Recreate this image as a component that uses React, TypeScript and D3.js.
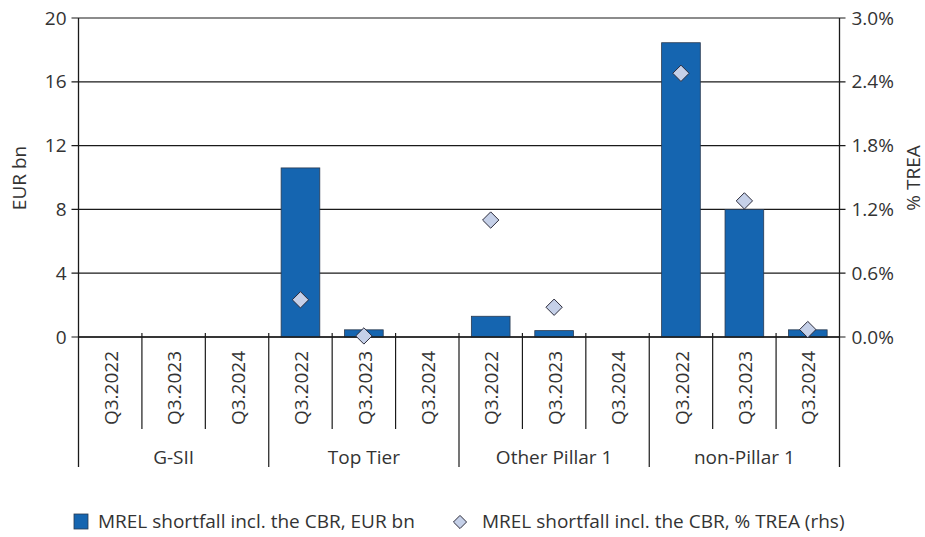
import React from "react";
import * as d3 from "d3";

const groups = ["G-SII", "Top Tier", "Other Pillar 1", "non-Pillar 1"];
const periods = ["Q3.2022", "Q3.2023", "Q3.2024"];
const shortfallEUR = [
  [0, 0, 0],
  [10.6, 0.45, 0],
  [1.3, 0.4, 0],
  [18.45, 8.0, 0.45],
];
const shortfallPct = [
  [null, null, null],
  [0.35, 0.01, null],
  [1.1, 0.28, null],
  [2.48, 1.28, 0.07],
];
const leftTicks = [0, 4, 8, 12, 16, 20];
const rightTicks = [0, 0.6, 1.2, 1.8, 2.4, 3.0];

const W = 925;
const H = 537;
const M = { left: 78.5, right: 839.5, top: 18, zero: 337 };
const FONT = "'Open Sans', 'Noto Sans', sans-serif";
const FS = 19;
const BAR = "#1565b0";
const DIA = "#c5d0e8";
const TXT = "#333";

export default function App() {
  const items = groups.flatMap((g, gi) =>
    periods.map((p, pi) => ({
      key: `${g}-${p}`,
      g,
      gi,
      p,
      v: shortfallEUR[gi][pi],
      pct: shortfallPct[gi][pi],
    }))
  );
  const x = d3
    .scaleBand<string>()
    .domain(items.map((d) => d.key))
    .range([M.left, M.right])
    .paddingInner(0)
    .paddingOuter(0);
  const step = x.step();
  const barW = step * 0.61;
  const yL = d3.scaleLinear().domain([0, 20]).range([M.zero, M.top]);
  const yR = d3.scaleLinear().domain([0, 3]).range([M.zero, M.top]);
  const diamond = d3.symbol().type(d3.symbolDiamond2).size(170);
  const lowY = 429;
  const groupY = 467;

  return (
    <svg width={W} height={H} style={{ position: "absolute", left: 0, top: 0 }} fontFamily={FONT}>
      <rect width={W} height={H} fill="#fff" />
      {leftTicks.map((t) => (
        <g key={`g${t}`}>
          <line x1={M.left - 7} x2={M.right + 6} y1={yL(t)} y2={yL(t)} stroke="#1a1a1a" strokeWidth={1.2} />
          <text x={M.left - 12} y={yL(t)} dy="0.35em" textAnchor="end" fontSize={FS} fill={TXT}>
            {t}
          </text>
        </g>
      ))}
      {rightTicks.map((t) => (
        <text key={`r${t}`} x={M.right + 12} y={yR(t)} dy="0.35em" textAnchor="start" fontSize={FS} fill={TXT}>
          {d3.format(".1f")(t)}%
        </text>
      ))}
      {items.map((d) =>
        d.v > 0 ? (
          <rect
            key={`b${d.key}`}
            x={(x(d.key) as number) + (step - barW) / 2}
            y={yL(d.v)}
            width={barW}
            height={M.zero - yL(d.v)}
            fill={BAR}
            stroke="#2a3a50"
            strokeWidth={0.8}
          />
        ) : null
      )}
      <line x1={M.left} x2={M.left} y1={M.top} y2={groupY} stroke="#1a1a1a" strokeWidth={1.3} />
      <line x1={M.right} x2={M.right} y1={M.top} y2={groupY} stroke="#1a1a1a" strokeWidth={1.3} />
      <line x1={M.left} x2={M.right} y1={M.zero} y2={M.zero} stroke="#1a1a1a" strokeWidth={1.3} />
      {items.map((d, i) =>
        i === 0 ? null : (
          <line
            key={`s${d.key}`}
            x1={x(d.key) as number}
            x2={x(d.key) as number}
            y1={M.zero - 4}
            y2={i % 3 === 0 ? groupY : lowY}
            stroke="#1a1a1a"
            strokeWidth={1.2}
          />
        )
      )}
      {items.map((d) =>
        d.pct != null ? (
          <path
            key={`d${d.key}`}
            d={diamond() as string}
            transform={`translate(${(x(d.key) as number) + step / 2},${yR(d.pct)})`}
            fill={DIA}
            stroke="#2b2b3b"
            strokeWidth={1}
          />
        ) : null
      )}
      {items.map((d) => (
        <text
          key={`t${d.key}`}
          transform={`translate(${(x(d.key) as number) + step / 2 + 1},${388}) rotate(-90)`}
          textAnchor="middle"
          dy="0.35em"
          fontSize={FS}
          fill={TXT}
        >
          {d.p}
        </text>
      ))}
      {groups.map((g) => (
        <text
          key={`gl${g}`}
          x={(x(`${g}-${periods[1]}`) as number) + step / 2}
          y={457}
          dy="0.35em"
          textAnchor="middle"
          fontSize={FS}
          fill={TXT}
        >
          {g}
        </text>
      ))}
      <text transform={`translate(19,178) rotate(-90)`} textAnchor="middle" dy="0.35em" fontSize={FS} fill={TXT}>
        EUR bn
      </text>
      <text transform={`translate(913,178) rotate(-90)`} textAnchor="middle" dy="0.35em" fontSize={FS} fill={TXT}>
        % TREA
      </text>
      <rect x={74} y={514} width={14} height={15} fill={BAR} stroke="#2a3a50" strokeWidth={0.8} />
      <text x={98} y={521.5} dy="0.35em" fontSize={FS} fill={TXT}>
        MREL shortfall incl. the CBR, EUR bn
      </text>
      <path d={d3.symbol().type(d3.symbolDiamond2).size(110)() as string} transform="translate(460,522)" fill={DIA} stroke="#2b2b3b" strokeWidth={1} />
      <text x={482} y={521.5} dy="0.35em" fontSize={FS} fill={TXT}>
        MREL shortfall incl. the CBR, % TREA (rhs)
      </text>
    </svg>
  );
}
